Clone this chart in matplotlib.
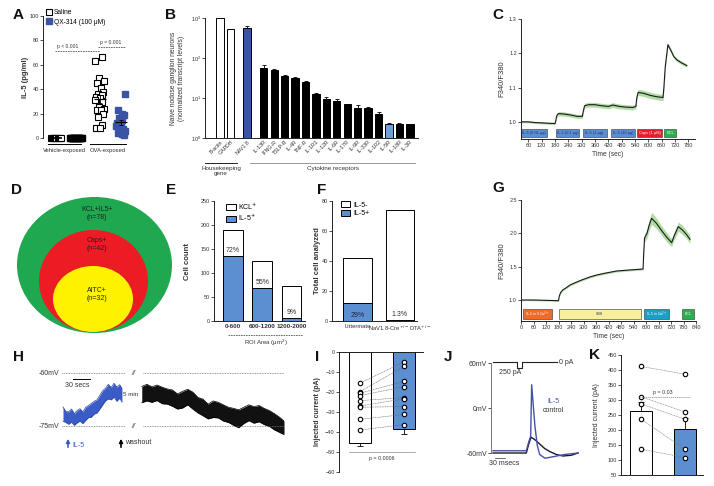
import numpy as np
import matplotlib
matplotlib.use('Agg')
import matplotlib.pyplot as plt
from matplotlib.patches import Ellipse, Patch
from matplotlib.lines import Line2D

plt.rcParams['font.family'] = ['Liberation Sans', 'DejaVu Sans']
plt.rcParams['axes.edgecolor'] = '#222222'
plt.rcParams['axes.linewidth'] = 0.7

# ---------------- data ----------------
# A  IL-5 in BALF
a_veh_saline = [0, 0, 0, 0, 0, 0, 0, 0, 0, 0]
a_veh_qx = [0, 0, 0, 0, 0, 0, 0, 0, 0, 0, 0, 0]
a_ova_saline = [63, 66, 49, 47, 45, 41, 38, 36, 35, 34, 33, 31, 29.5, 25, 24, 23,
                23, 20, 17, 11, 8, 8]
a_ova_qx = [36, 23, 20, 18.6, 16.7, 14.5, 12.3, 10.4, 9.6, 7.7, 6.8, 5.5, 4.1, 3.6, 2.2]

# B  transcript levels
b_labels = ['B-actin', 'GAPDH', 'NAV1.8', 'IL-13R', 'IFNG-R', 'TSLP-R', 'IL-4R', 'TNF-R',
            'IL-1R1', 'IL-12R', 'IL-6R', 'IL-17R', 'IL-9R', 'IL-33R', 'IL-1R2', 'IL-5R',
            'IL-18R', 'IL-3R']
b_values = [1000, 525, 575, 55, 50, 35.5, 31, 25, 12.4, 9.6, 8.6, 6.9, 5.7, 5.7, 3.9,
            2.3, 2.3, 2.2]
b_err = [0, 0, 40, 12, 4, 2, 2, 2, 0.6, 1.2, 0.9, 0.3, 0.9, 0.3, 0.6, 0.1, 0.1, 0.1]

# C  calcium trace, IL-5 doses
c_time = [27, 60, 90, 120, 150, 180, 184, 188, 195, 220, 250, 280, 303, 307, 313, 330,
          360, 390, 420, 440, 470, 500, 530, 544, 548, 554, 580, 610, 640, 666, 670,
          676, 688, 700, 715, 730, 750, 773]
c_ratio = [1.0, 1.0, 0.998, 0.997, 0.996, 0.995, 1.005, 1.018, 1.024, 1.023, 1.02,
           1.016, 1.016, 1.03, 1.047, 1.05, 1.05, 1.047, 1.045, 1.049, 1.045, 1.043,
           1.042, 1.045, 1.07, 1.086, 1.083, 1.077, 1.073, 1.071, 1.10, 1.16, 1.225,
           1.21, 1.19, 1.18, 1.172, 1.164]
c_sem = [0.003, 0.003, 0.003, 0.003, 0.003, 0.003, 0.004, 0.005, 0.006, 0.006, 0.006,
         0.006, 0.006, 0.006, 0.007, 0.007, 0.007, 0.007, 0.007, 0.007, 0.007, 0.007,
         0.007, 0.007, 0.008, 0.009, 0.009, 0.009, 0.009, 0.009, 0.009, 0.009, 0.006,
         0.006, 0.005, 0.005, 0.005, 0.005]
c_boxes = [(29, 145, 'IL-5 (0.01 μg)', '#5a8fd6'), (185, 290, 'IL-5 (0.1 μg)', '#5a8fd6'),
           (305, 412, 'IL-5 (1 μg)', '#5a8fd6'), (432, 540, 'IL-5 (10 μg)', '#5a8fd6'),
           (548, 662, 'Caps (1 μM)', '#e3202a'), (672, 724, 'KCL', '#2fae4e')]

# D  populations
d_labels = ['KCL+IL5+', 'Caps+', 'AITC+']
d_n = [78, 42, 32]

# E  ROI area
e_bins = ['0-600', '600-1200', '1200-2000']
e_kcl = [190, 125, 73]
e_il5 = [136, 69, 7]
e_pct = ['72%', '55%', '9%']

# F  total cells
f_groups = ['Littermate', 'NaV1.8-Cre$^{+/-}$DTA$^{+/-}$']
f_total = [42, 74]
f_il5 = [12, 1]
f_pct = ['29%', '1.3%']

# G  calcium trace, Ca-free
g_time = [0, 60, 120, 175, 180, 184, 190, 200, 215, 235, 260, 291, 330, 363, 400, 459,
          520, 586, 589, 593, 605, 615, 627, 650, 680, 700, 723, 735, 755, 775, 795, 811]
g_ratio = [1.0, 1.0, 0.995, 0.99, 0.99, 1.06, 1.11, 1.15, 1.18, 1.225, 1.26, 1.30,
           1.345, 1.375, 1.40, 1.435, 1.45, 1.465, 1.70, 1.93, 2.0, 2.12, 2.225, 2.15,
           2.02, 1.94, 1.86, 1.96, 2.1, 2.05, 1.98, 1.91]
g_sem = [0.01, 0.01, 0.01, 0.01, 0.01, 0.015, 0.015, 0.015, 0.015, 0.015, 0.015, 0.015,
         0.015, 0.015, 0.015, 0.015, 0.015, 0.015, 0.04, 0.06, 0.07, 0.08, 0.09, 0.08,
         0.07, 0.07, 0.06, 0.06, 0.07, 0.07, 0.06, 0.06]
g_boxes = [(8, 150, 'IL-5 in 0 Ca$^{2+}$', '#f26a2a'), (181, 576, 'SBS', '#f8f09a'),
           (592, 712, 'IL-5 in Ca$^{2+}$', '#1b9fc6'), (771, 830, 'KCL', '#2fae4e')]

# H  membrane potential (mV), IL-5 then washout
h_il5_t = [0, 5, 10, 15, 20, 25, 30, 35, 40, 45, 50, 55, 60, 65, 70, 75, 80, 85, 90, 95,
           100, 104]
h_il5_hi = [-69.6, -70.9, -71.0, -70.2, -71.5, -70.6, -70.1, -71.0, -69.7, -69.2, -68.6,
            -68.0, -67.6, -66.3, -65.0, -64.3, -63.2, -64.1, -62.9, -64.0, -63.3, -64.4]
h_il5_lo = [-73.6, -74.0, -74.5, -73.9, -74.8, -74.1, -73.6, -74.3, -73.4, -72.6, -72.5,
            -71.6, -71.3, -70.2, -69.0, -67.9, -67.3, -67.6, -66.8, -68.0, -67.1, -68.2]
h_wash_t = [139, 148, 157, 166, 175, 184, 193, 202, 211, 220, 229, 238, 247, 256, 265,
            274, 283, 292, 301, 310, 319, 328, 337, 346, 355, 364, 373, 382, 390]
h_wash_hi = [-63.8, -63.2, -63.9, -63.4, -64.0, -64.5, -64.8, -65.9, -65.2, -64.6, -65.4,
             -66.9, -67.4, -68.8, -67.9, -68.3, -69.0, -69.7, -70.0, -70.4, -69.7, -69.0,
             -69.5, -69.2, -70.0, -70.6, -71.5, -72.5, -73.6]
h_wash_lo = [-68.4, -67.9, -68.3, -67.8, -68.7, -68.8, -69.4, -70.2, -69.9, -69.0, -70.2,
             -71.3, -72.1, -73.0, -72.6, -72.7, -73.6, -74.0, -74.8, -75.5, -74.3, -73.5,
             -74.2, -73.8, -74.6, -75.1, -76.1, -76.8, -77.4]

# I  rheobase, control vs IL-5
i_ctrl = [-15.6, -19.8, -20.6, -21.8, -24.3, -27.0, -27.6, -33.7, -39.0]
i_il5 = [-4.9, -7.2, -14.7, -17.3, -22.8, -23.4, -27.3, -31.2, -36.3]
i_means = [-45.5, -38.5]
i_err = [1.5, 2.5]

# J  action potentials
j_stim_t = [0, 72, 72, 87, 87, 192]
j_stim_pa = [0, 0, -250, -250, 0, 0]
j_ctrl_t = [0, 100, 106, 114, 125, 140, 155, 170, 190, 210, 235, 255]
j_ctrl_v = [-60, -60, -50, -39, -42, -48, -54, -58, -62, -64, -63, -60]
j_il5_t = [0, 100, 106, 111, 113, 116, 120, 126, 133, 140, 156, 180, 215, 255]
j_il5_v = [-57, -57, -47, -40, -38, 31, 8, -25, -50, -62, -67, -65, -62, -60]

# K  injected current
k_ctrl = [412, 311, 287, 236, 136]
k_il5 = [386, 260, 236, 136, 108]
k_means = [263, 203]
k_err = [31, 38]

# ---------------- figure ----------------
W, H = 714, 486
fig = plt.figure(figsize=(W / 100, H / 100), dpi=100)
BLUE = '#5b8fd2'
DBLUE = '#3a53a4'
TXT = '#333333'


def rect(x0, y0, x1, y1):
    return [x0 / W, 1 - y1 / H, (x1 - x0) / W, (y1 - y0) / H]


def style(ax, fs=4):
    for s in ['top', 'right']:
        ax.spines[s].set_visible(False)
    ax.tick_params(labelsize=fs, length=2, width=0.6, pad=1, colors=TXT)


# A
axA = fig.add_axes(rect(43, 16, 128, 138))
style(axA)
axA.spines['bottom'].set_visible(False)
axA.set_xticks([])
axA.set_xlim(0, 4.15)
axA.set_ylim(0, 100)
axA.set_yticks([0, 20, 40, 60, 80, 100])
posA = [0.63, 1.61, 2.78, 3.8]
jit = [-0.22, 0.12, -0.06, 0.2, -0.15, 0.04, 0.16, -0.1, 0.08, -0.19, 0.0]
axA.plot(posA[0] + np.linspace(-0.26, 0.26, len(a_veh_saline)), a_veh_saline, 's',
         mfc='white', mec='black', ms=4, mew=0.8, clip_on=False)
axA.plot(posA[1] + np.linspace(-0.3, 0.3, len(a_veh_qx)), a_veh_qx, 's',
         mfc='black', mec='black', ms=4, clip_on=False)
axA.plot([posA[2] + jit[i % len(jit)] for i in range(len(a_ova_saline))], a_ova_saline,
         's', mfc='white', mec='black', ms=4.2, mew=0.8, clip_on=False)
axA.plot([posA[3] + jit[(i + 3) % len(jit)] for i in range(len(a_ova_qx))], a_ova_qx,
         's', mfc=DBLUE, mec=DBLUE, ms=4.2, clip_on=False)
axA.hlines(0, posA[0] - 0.3, posA[0] + 0.3, color='black', lw=1.2, clip_on=False)
for p, vals in zip(posA[2:], [a_ova_saline, a_ova_qx]):
    m = np.mean(vals)
    se = np.std(vals, ddof=1) / np.sqrt(len(vals))
    axA.hlines(m, p - 0.3, p + 0.3, color='black', lw=0.8)
    axA.errorbar(p, m, yerr=se, color='black', lw=0.6, capsize=1.5, capthick=0.6)
axA.hlines(71.3, 0.59, 2.78, color='#555555', lw=0.6, ls=(0, (2, 1)))
axA.text(1.22, 73.5, 'p < 0.001', fontsize=3.6, ha='center', color=TXT)
axA.hlines(74.5, 2.68, 4.0, color='#555555', lw=0.6, ls=(0, (2, 1)))
axA.text(3.3, 77, 'p = 0.001', fontsize=3.6, ha='center', color=TXT)
for x0, x1, lab in [(0.24, 1.85, 'Vehicle-exposed'), (2.29, 4.05, 'OVA-exposed')]:
    axA.plot([x0, x1], [-5, -5], color='black', lw=0.7, clip_on=False)
    axA.text((x0 + x1) / 2, -8, lab, fontsize=4.2, ha='center', va='top', color=TXT)
axA.set_ylabel('IL-5 (pg/ml)', fontsize=5.5, fontweight='bold', color=TXT)
axA.yaxis.set_label_coords(-0.17, 0.5)
axA.legend(handles=[Line2D([], [], marker='s', ls='', mfc='white', mec='black', ms=4.5,
                           mew=0.8, label='Saline'),
                    Line2D([], [], marker='s', ls='', mfc=DBLUE, mec=DBLUE, ms=4.5,
                           label='QX-314 (100 μM)')],
           loc='upper left', bbox_to_anchor=(0.0, 1.08), frameon=False, fontsize=4.8,
           handletextpad=0.2, labelspacing=0.4, borderaxespad=0, handlelength=1)

# B
axB = fig.add_axes(rect(205, 18, 418, 138))
style(axB)
axB.set_yscale('log')
axB.set_ylim(1, 1000)
axB.set_xlim(-1.44, 18.98)
posB = [0, 1, 2.6] + [4.2 + i for i in range(15)]
colB = ['white', 'white', DBLUE] + ['black'] * 12 + ['#6fa0dc', 'black', 'black']
axB.bar(posB, b_values, width=0.7, color=colB, edgecolor='black', lw=0.7)
axB.errorbar(posB[2:], b_values[2:], yerr=[[0] * 16, b_err[2:]], fmt='none',
             ecolor='black', lw=0.6, capsize=1.4, capthick=0.6)
axB.set_xticks(posB)
axB.set_xticklabels(b_labels, rotation=45, ha='right', rotation_mode='anchor', fontsize=3.8)
axB.tick_params(axis='x', length=0)
axB.minorticks_off()
axB.set_yticks([1, 10, 100, 1000])
axB.set_ylabel('Naive nodose ganglion neurons\n(normalized transcript levels)',
               fontsize=4.8, color=TXT, linespacing=1.1)
axB.yaxis.set_label_coords(-0.095, 0.5)


def trace_panel(ax, t, r, sem, boxes, y0, y1, fs=2.8):
    ax.fill_between(t, np.array(r) - np.array(sem), np.array(r) + np.array(sem),
                    color='#b2dca6', lw=0)
    ax.plot(t, r, color='#1a1a1a', lw=0.8)
    for a, b, lab, col in boxes:
        ax.fill_between([a, b], y0, y1, color=col, ec='#333333', lw=0.4)
        tc = 'white' if col in ('#e3202a', '#f26a2a', '#1b9fc6', '#2fae4e') else '#1d2f6b'
        ax.text((a + b) / 2, (y0 + y1) / 2, lab, fontsize=fs, ha='center', va='center',
                color=tc)
    ax.set_xlabel('Time (sec)', fontsize=4.8, color=TXT, labelpad=2)
    ax.set_ylabel('F340/F380', fontsize=5.5, color=TXT)


# C
axC = fig.add_axes(rect(521, 19, 695, 139))
style(axC)
axC.set_xlim(27, 810)
axC.set_ylim(0.95, 1.3)
axC.set_xticks(range(60, 781, 60))
axC.set_yticks([1.0, 1.1, 1.2, 1.3])
axC.yaxis.set_major_formatter('{x:.1f}')
trace_panel(axC, c_time, c_ratio, c_sem, c_boxes, 0.956, 0.98)
axC.yaxis.set_label_coords(-0.09, 0.5)

# G
axG = fig.add_axes(rect(521, 200, 696, 321))
style(axG)
axG.set_xlim(0, 840)
axG.set_ylim(0.685, 2.5)
axG.set_xticks(range(0, 841, 60))
axG.set_yticks([1.0, 1.5, 2.0, 2.5])
axG.yaxis.set_major_formatter('{x:.1f}')
trace_panel(axG, g_time, g_ratio, g_sem, g_boxes, 0.71, 0.86, fs=2.6)
axG.yaxis.set_label_coords(-0.09, 0.5)

# E
axE = fig.add_axes(rect(214, 201, 305, 321))
style(axE)
axE.set_xlim(-0.65, 2.46)
axE.set_ylim(0, 250)
axE.set_yticks([0, 50, 100, 150, 200, 250])
posE = np.arange(len(e_bins))
axE.bar(posE, e_kcl, width=0.68, color='white', edgecolor='black', lw=0.7)
axE.bar(posE, e_il5, width=0.68, color=BLUE, edgecolor='black', lw=0.7)
for p, v, t in zip(posE, e_il5, e_pct):
    axE.text(p, v + 4, t, fontsize=5, ha='center', va='bottom', color=TXT)
axE.set_xticks(posE)
axE.set_xticklabels(e_bins, fontsize=4.6, fontweight='bold')
axE.tick_params(axis='x', length=0, pad=2)
axE.set_ylabel('Cell count', fontsize=5.5, fontweight='bold', color=TXT)
axE.yaxis.set_label_coords(-0.25, 0.5)
axE.legend(handles=[Patch(fc='white', ec='black', lw=0.7, label='KCL$^{+}$'),
                    Patch(fc=BLUE, ec='black', lw=0.7, label='IL-5$^{+}$')],
           loc='upper left', bbox_to_anchor=(0.1, 1.02), frameon=False, fontsize=5,
           handlelength=1.4, handleheight=0.9, handletextpad=0.4, labelspacing=0.2,
           borderaxespad=0)

# F
axF = fig.add_axes(rect(332, 201, 417, 321))
style(axF)
axF.set_xlim(-0.6, 1.4)
axF.set_ylim(0, 80)
axF.set_yticks([0, 20, 40, 60, 80])
posF = np.arange(len(f_groups))
axF.bar(posF, f_total, width=0.68, color='white', edgecolor='black', lw=0.7)
axF.bar(posF, f_il5, width=0.68, color=BLUE, edgecolor='black', lw=0.7)
axF.text(posF[0], f_il5[0] / 2 - 2, f_pct[0], fontsize=5, ha='center', va='center',
         color='#222244')
axF.text(posF[1], f_il5[1] + 1, f_pct[1], fontsize=5, ha='center', va='bottom', color=TXT)
axF.set_xticks(posF)
axF.set_xticklabels(f_groups, fontsize=4.2)
axF.tick_params(axis='x', length=0, pad=2)
axF.set_ylabel('Total cell analyzed', fontsize=5.5, fontweight='bold', color=TXT)
axF.yaxis.set_label_coords(-0.13, 0.5)
axF.legend(handles=[Patch(fc='white', ec='black', lw=0.7, label='IL-5-'),
                    Patch(fc=BLUE, ec='black', lw=0.7, label='IL-5+')],
           loc='upper left', bbox_to_anchor=(0.07, 1.02), frameon=False, fontsize=5,
           handlelength=1.4, handleheight=0.9, handletextpad=0.4, labelspacing=0.2,
           borderaxespad=0)

# H
axH = fig.add_axes(rect(62, 360, 284, 440))
axH.axis('off')
axH.set_xlim(-1.76, 390)
axH.set_ylim(-78.96, -56.32)
for lvl in [-60, -75]:
    axH.hlines(lvl, -1.76, 109, color='#777777', lw=0.6, ls=(0, (1, 1)))
    axH.hlines(lvl, 141, 390, color='#777777', lw=0.6, ls=(0, (1, 1)))
    axH.text(124, lvl, '//', fontsize=5, ha='center', va='center', style='italic',
             color=TXT)
axH.fill_between(h_il5_t, h_il5_lo, h_il5_hi, color='#3b5cc6', lw=0)
axH.plot(h_il5_t, h_il5_hi, color='#2a44a8', lw=0.5)
axH.plot(h_il5_t, h_il5_lo, color='#2a44a8', lw=0.5)
axH.fill_between(h_wash_t, h_wash_lo, h_wash_hi, color='#111111', lw=0)
axH.plot(h_wash_t, h_wash_hi, color='black', lw=0.5)
axH.plot(h_wash_t, h_wash_lo, color='black', lw=0.5)
axH.plot([17.6, 47.6], [-61.7, -61.7], color='black', lw=0.7)

# I
axI = fig.add_axes(rect(339, 352, 423, 472))
style(axI)
axI.spines['top'].set_visible(True)
axI.spines['bottom'].set_visible(False)
axI.set_xlim(-0.477, 1.43)
axI.set_ylim(-60, 0)
axI.set_xticks([])
axI.set_yticks([0, -10, -20, -30, -40, -50, -60])
axI.bar([0, 1], i_means, width=0.5, color=['white', BLUE], edgecolor='black', lw=0.7)
axI.errorbar([0, 1], i_means, yerr=[i_err, [0, 0]], fmt='none', ecolor='black', lw=0.6,
             capsize=2, capthick=0.6)
for a, b in zip(i_ctrl, i_il5):
    axI.plot([0, 1], [a, b], color='#666666', lw=0.4, ls=(0, (2, 1)))
axI.plot([0] * len(i_ctrl), i_ctrl, 'o', mfc='white', mec='black', ms=3.2, mew=0.8)
axI.plot([1] * len(i_il5), i_il5, 'o', mfc='white', mec='black', ms=3.2, mew=0.8)
axI.plot([-0.25, 1.25], [-50, -50], color='#888888', lw=0.5, clip_on=False)
axI.text(0.5, -52, 'p = 0.0006', fontsize=3.8, ha='center', va='top', color=TXT)
axI.set_ylabel('Injected current (pA)', fontsize=5, fontweight='bold', color=TXT)
axI.yaxis.set_label_coords(-0.22, 0.5)

# J
axJ = fig.add_axes(rect(491, 363, 600, 464.25))
axJ.set_xlim(-6, 321)
axJ.set_ylim(-75, 60)
for s in ['top', 'right', 'bottom']:
    axJ.spines[s].set_visible(False)
axJ.spines['left'].set_bounds(-60, 60)
axJ.spines['left'].set_color('#777777')
axJ.set_xticks([])
axJ.set_yticks([60, 0, -60])
axJ.set_yticklabels(['60mV', '0mV', '-60mV'])
axJ.tick_params(axis='y', labelsize=5, length=2, width=0.6, pad=1, colors=TXT)
axJ.plot(j_ctrl_t, j_ctrl_v, color='#1a1a2e', lw=1.0)
axJ.plot(j_il5_t, j_il5_v, color='#4652a8', lw=1.0)
axJ.plot([6, 36], [-67, -67], color='#555555', lw=0.6)
axJs = fig.add_axes(rect(491, 358, 600, 372))
axJs.axis('off')
axJs.set_xlim(-6, 321)
axJs.set_ylim(-453, 181)
axJs.plot(j_stim_t, j_stim_pa, color='#222222', lw=0.8)

# K
axK = fig.add_axes(rect(621, 355, 703, 475))
style(axK)
axK.set_xlim(-0.455, 1.41)
axK.set_ylim(50, 450)
axK.set_xticks([])
axK.set_yticks(range(50, 451, 50))
axK.bar([0, 1], k_means, width=0.5, color=['white', BLUE], edgecolor='black', lw=0.7)
axK.errorbar([0, 1], k_means, yerr=[[0, 0], k_err], fmt='none', ecolor='black', lw=0.6,
             capsize=2.5, capthick=0.6)
for a, b in zip(k_ctrl, k_il5):
    axK.plot([0, 1], [a, b], color='#777777', lw=0.4, ls=(0, (2, 1)))
axK.plot([0] * len(k_ctrl), k_ctrl, 'o', mfc='white', mec='black', ms=3.2, mew=0.8)
axK.plot([1] * len(k_il5), k_il5, 'o', mfc='white', mec='black', ms=3.2, mew=0.8)
axK.plot([-0.05, 1.12], [310, 310], color='#888888', lw=0.5, ls=(0, (2, 1)))
axK.text(0.5, 318, 'p = 0.03', fontsize=3.8, ha='center', va='bottom', color=TXT)
axK.set_ylabel('Injected current (pA)', fontsize=5, color=TXT)
axK.yaxis.set_label_coords(-0.25, 0.5)

# ---------------- overlay: panel D, letters, annotations ----------------
ov = fig.add_axes([0, 0, 1, 1], zorder=10)
ov.set_xlim(0, W)
ov.set_ylim(H, 0)
ov.axis('off')
ov.patch.set_alpha(0)

for (cx, cy, w, h), col in zip([(94.5, 265, 155, 136), (93.5, 281, 109, 102),
                                (93, 299, 80, 66)], ['#1fa84f', '#ec1c24', '#fff200']):
    ov.add_patch(Ellipse((cx, cy), w, h, fc=col, ec='none'))
for lab, n, y in zip(d_labels, d_n, [209, 240, 290]):
    ov.text(97, y, lab, fontsize=5, ha='center', va='center', color='#222222')
    ov.text(97, y + 8.5, '(n=%d)' % n, fontsize=5, ha='center', va='center',
            color='#222222')

letters = {'A': (18, 15), 'B': (170, 15), 'C': (498, 15), 'D': (17, 190), 'E': (171, 190),
           'F': (322, 190), 'G': (498, 188), 'H': (18, 357), 'I': (317, 357),
           'J': (448, 357), 'K': (595, 355)}
for k, (x, y) in letters.items():
    ov.text(x, y, k, fontsize=11, fontweight='bold', ha='center', va='center',
            color='#111111')

# B groups
ov.plot([205, 237], [163, 163], color='black', lw=0.6)
ov.text(221, 166, 'Housekeeping\ngene', fontsize=4.5, ha='center', va='top', color=TXT,
        linespacing=1.1)
ov.plot([250, 415], [163, 163], color='#888888', lw=0.6)
ov.text(333, 166, 'Cytokine receptors', fontsize=4.5, ha='center', va='top', color=TXT)

# E x label
ov.plot([228, 303], [335, 335], color='#555555', lw=0.6, ls=(0, (2, 1)))
ov.text(266, 343, 'ROI Area (μm$^{2}$)', fontsize=4.3, ha='center', va='center', color=TXT)

# H annotations
ov.text(59, 373, '-60mV', fontsize=5, ha='right', va='center', color=TXT)
ov.text(59, 426, '-75mV', fontsize=5, ha='right', va='center', color=TXT)
ov.text(77, 385, '30 secs', fontsize=5, ha='center', va='center', color=TXT)
ov.text(131, 394, '5 min', fontsize=4.5, ha='center', va='center', color=TXT)
ov.annotate('', xy=(68, 436), xytext=(68, 450),
            arrowprops=dict(arrowstyle='-|>', color='#3b5cc6', lw=1.2, mutation_scale=5))
ov.text(72, 445, 'IL-5', fontsize=5, ha='left', va='center', color='#3b5cc6')
ov.annotate('', xy=(121, 436), xytext=(121, 450),
            arrowprops=dict(arrowstyle='-|>', color='black', lw=1.2, mutation_scale=5))
ov.text(125, 442, 'washout', fontsize=5, ha='left', va='center', color=TXT)

# J annotations
ov.text(510, 372, '250 pA', fontsize=5, ha='center', va='center', color=TXT)
ov.text(559, 362, '0 pA', fontsize=5, ha='left', va='center', color=TXT)
ov.text(553, 401, 'IL-5', fontsize=5, ha='center', va='center', color='#4652a8')
ov.text(553, 410, 'control', fontsize=5, ha='center', va='center', color=TXT)
ov.text(504, 463, '30 msecs', fontsize=5, ha='center', va='center', color=TXT)

fig.savefig('out.png', dpi=100, facecolor='white')
